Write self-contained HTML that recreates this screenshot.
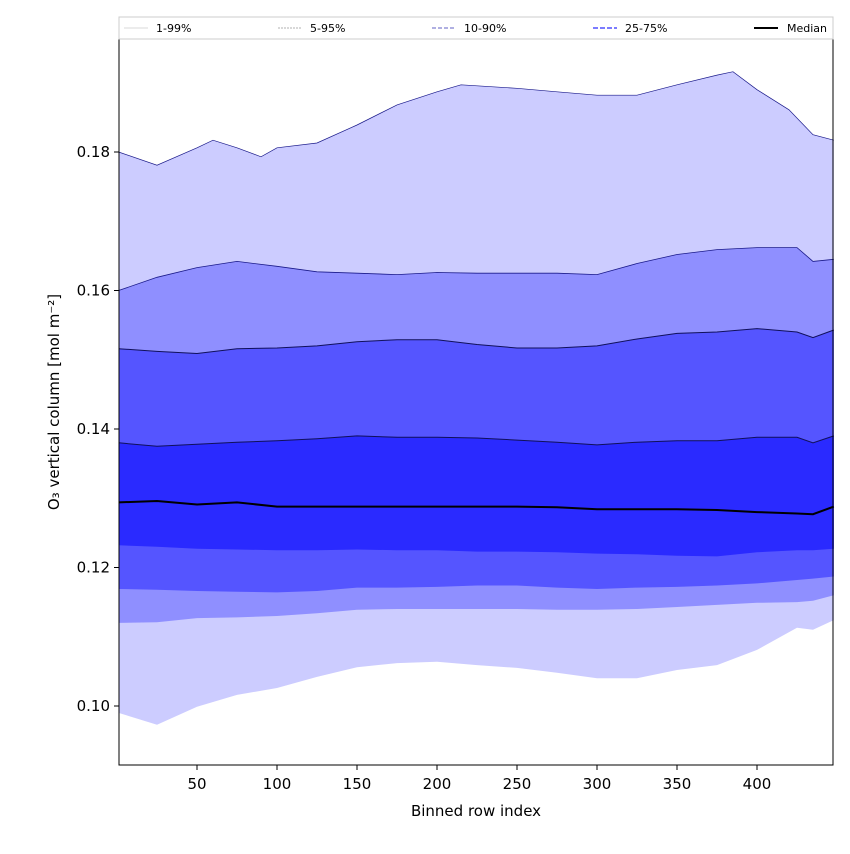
<!DOCTYPE html>
<html><head><meta charset="utf-8"><style>
body{margin:0;background:#fff;font-family:"DejaVu Sans","Liberation Sans",sans-serif;}
</style></head><body>
<svg id="chart" width="850" height="850" xmlns="http://www.w3.org/2000/svg" font-family="DejaVu Sans, Liberation Sans, sans-serif">
<g id="bands"></g>
<rect x="119" y="39" width="714" height="726" fill="none" stroke="#000" stroke-width="1"/>
<g id="ticks"></g>
<text x="476" y="816" font-size="15" text-anchor="middle">Binned row index</text>
<text transform="translate(59,402) rotate(-90)" font-size="15" text-anchor="middle">O₃ vertical column [mol m⁻²]</text>
<g>
<rect x="119" y="17" width="714" height="22" fill="#fff" stroke="#ccc"/>
<g><line x1="124" y1="28" x2="148" y2="28" stroke="#ccc" stroke-width="0.8"/><text x="156" y="32" font-size="11">1-99%</text></g>
<g><line x1="278" y1="28" x2="302" y2="28" stroke="#999" stroke-width="0.8" stroke-dasharray="2,1"/><text x="310" y="32" font-size="11">5-95%</text></g>
<g><line x1="432" y1="28" x2="456" y2="28" stroke="#8080d0" stroke-width="1.2" stroke-dasharray="4,2"/><text x="464" y="32" font-size="11">10-90%</text></g>
<g><line x1="593" y1="28" x2="617" y2="28" stroke="#5050ff" stroke-width="1.5" stroke-dasharray="5,2"/><text x="625" y="32" font-size="11">25-75%</text></g>
<g><line x1="754" y1="28" x2="778" y2="28" stroke="#000" stroke-width="2"/><text x="787" y="32" font-size="11">Median</text></g>
</g>
</svg>
<script>
const xGrid=[1,25,50,75,100,125,150,175,200,225,250,275,300,325,350,375,400,425,435,448];
const x99=[1,25,50,60,75,90,100,125,150,175,200,215,250,275,300,325,350,375,385,400,420,435,448];
const p99=[0.180,0.1781,0.1806,0.1817,0.1806,0.1793,0.1806,0.1813,0.1839,0.1868,0.1887,0.1897,0.1892,0.1887,0.1882,0.1882,0.1897,0.1911,0.1916,0.1890,0.1861,0.1825,0.1817];
const p95=[0.160,0.1619,0.1633,0.1642,0.1635,0.1627,0.1625,0.1623,0.1626,0.1625,0.1625,0.1625,0.1623,0.1639,0.1652,0.1659,0.1662,0.1662,0.1642,0.1645];
const p90=[0.1516,0.1512,0.1509,0.1516,0.1517,0.1520,0.1526,0.1529,0.1529,0.1522,0.1517,0.1517,0.1520,0.1530,0.1538,0.1540,0.1545,0.1540,0.1532,0.1543];
const p75=[0.1380,0.1375,0.1378,0.1381,0.1383,0.1386,0.1390,0.1388,0.1388,0.1387,0.1384,0.1381,0.1377,0.1381,0.1383,0.1383,0.1388,0.1388,0.1380,0.1390];
const p50=[0.1294,0.1296,0.1291,0.1294,0.1288,0.1288,0.1288,0.1288,0.1288,0.1288,0.1288,0.1287,0.1284,0.1284,0.1284,0.1283,0.1280,0.1278,0.1277,0.1288];
const p25=[0.1232,0.1230,0.1227,0.1226,0.1225,0.1225,0.1226,0.1225,0.1225,0.1223,0.1223,0.1222,0.1220,0.1219,0.1217,0.1216,0.1222,0.1225,0.1225,0.1227];
const p10=[0.1169,0.1168,0.1166,0.1165,0.1164,0.1166,0.1171,0.1171,0.1172,0.1174,0.1174,0.1171,0.1169,0.1171,0.1172,0.1174,0.1177,0.1182,0.1184,0.1187];
const p5=[0.1120,0.1121,0.1127,0.1128,0.1130,0.1134,0.1139,0.1140,0.1140,0.1140,0.1140,0.1139,0.1139,0.1140,0.1143,0.1146,0.1149,0.1150,0.1152,0.1160];
const p1=[0.0990,0.0973,0.0999,0.1016,0.1026,0.1042,0.1056,0.1062,0.1064,0.1059,0.1055,0.1048,0.1040,0.1040,0.1052,0.1059,0.1081,0.1113,0.1110,0.1124];
const xTicks=[50,100,150,200,250,300,350,400];
const yTicks=[0.10,0.12,0.14,0.16,0.18];
const yTickLabels=["0.10","0.12","0.14","0.16","0.18"];

const X=v=>117+(v)*1.6;
const Y=v=>152+(0.18-v)*6925;
const NS="http://www.w3.org/2000/svg";
const bands=document.getElementById('bands');
function pts(xs,vs){return xs.map((x,i)=>X(x).toFixed(1)+','+Y(vs[i]).toFixed(1));}
function band(xa,va,xb,vb,fill,name){
  const p=document.createElementNS(NS,'polygon');
  p.setAttribute('points',pts(xa,va).concat(pts(xb,vb).reverse()).join(' '));
  p.setAttribute('fill',fill);
  
  
  bands.appendChild(p);
}
function line(xs,vs,stroke,w,name){
  const p=document.createElementNS(NS,'polyline');
  p.setAttribute('points',pts(xs,vs).join(' '));
  p.setAttribute('fill','none');p.setAttribute('stroke',stroke);p.setAttribute('stroke-width',w);
  
  
  bands.appendChild(p);
}
band(x99,p99,xGrid,p1,'#ccccff','band-1-99');
band(xGrid,p95,xGrid,p5,'#8f8fff','band-5-95');
band(xGrid,p90,xGrid,p10,'#5555ff','band-10-90');
band(xGrid,p75,xGrid,p25,'#2a2aff','band-25-75');
line(x99,p99,'#1a1a8a',0.7,'line-p99');
line(xGrid,p95,'#1a1a8a',0.8,'line-p95');
line(xGrid,p90,'#10105a',1,'line-p90');
line(xGrid,p75,'#10105a',1,'line-p75');
line(xGrid,p50,'#000',2,'median-line');
const tg=document.getElementById('ticks');
xTicks.forEach(t=>{
  const l=document.createElementNS(NS,'line');
  l.setAttribute('x1',X(t));l.setAttribute('x2',X(t));l.setAttribute('y1',765);l.setAttribute('y2',770);l.setAttribute('stroke','#000');
  
  
  tg.appendChild(l);
  const tx=document.createElementNS(NS,'text');
  tx.setAttribute('x',X(t));tx.setAttribute('y',789);tx.setAttribute('font-size','15');tx.setAttribute('text-anchor','middle');
  tx.textContent=t;
  
  
  tg.appendChild(tx);
});
yTicks.forEach((t,i)=>{
  const l=document.createElementNS(NS,'line');
  l.setAttribute('x1',114);l.setAttribute('x2',119);l.setAttribute('y1',Y(t));l.setAttribute('y2',Y(t));l.setAttribute('stroke','#000');
  
  
  tg.appendChild(l);
  const tx=document.createElementNS(NS,'text');
  tx.setAttribute('x',110);tx.setAttribute('y',Y(t)+5);tx.setAttribute('font-size','15');tx.setAttribute('text-anchor','end');
  tx.textContent=yTickLabels[i];
  
  
  tg.appendChild(tx);
});
</script>
</body></html>
